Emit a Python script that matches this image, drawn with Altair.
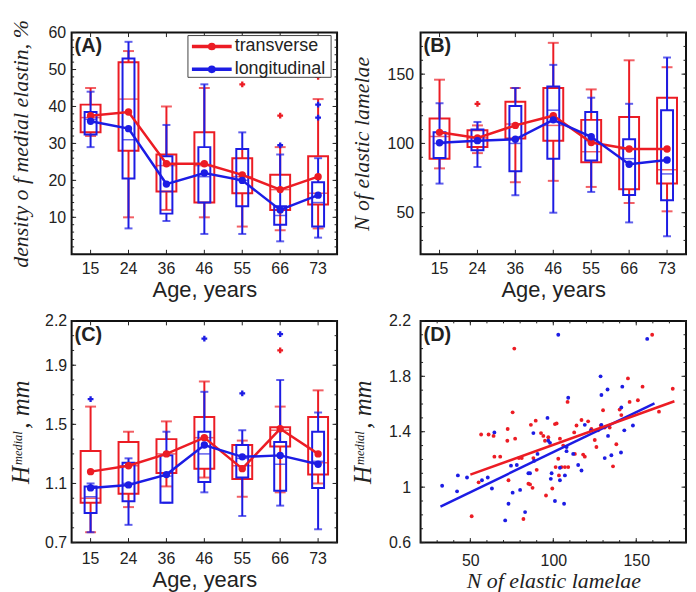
import altair as alt
import pandas as pd

AGES = ["15", "24", "36", "46", "55", "66", "73"]
SERIES = ["transverse", "longitudinal"]

# ---------------- Panel A: density of medial elastin, % ----------------
A_TR_LO = [32, 10, 12, 10, 7.5, 6.5, 7]
A_TR_Q1 = [33, 28, 17, 14, 16.5, 12, 13.5]
A_TR_MED = [37, 42, 24, 24, 21, 17.5, 16.5]
A_TR_Q3 = [40.5, 52, 27, 33, 26, 21.5, 26.5]
A_TR_HI = [45, 55, 40, 45, 28.5, 29, 42]
A_TR_MEAN = [37.5, 38.5, 24.5, 24.5, 21.5, 17.5, 21]
A_TR_OUT_AGE = ["55", "66", "73"]
A_TR_OUT_VAL = [46, 37.5, 48]

A_LG_LO = [29, 7, 9, 5.5, 5.5, 3.5, 4.5]
A_LG_Q1 = [32.4, 20.5, 11, 14, 13, 8, 7.5]
A_LG_MED = [36.5, 31, 17, 21, 20, 10.5, 14]
A_LG_Q3 = [38.5, 53, 26.5, 29, 28.5, 13, 19.5]
A_LG_HI = [44, 57.5, 35, 46, 33, 27, 26]
A_LG_MEAN = [36, 34, 19, 22, 20, 12, 16]
A_LG_OUT_AGE = ["66", "73", "73"]
A_LG_OUT_VAL = [29.5, 40.5, 37]

# ---------------- Panel B: N of elastic lamelae ----------------
B_TR_LO = [82, 93, 72, 73, 68.6, 57, 51]
B_TR_Q1 = [89, 97.5, 103.5, 102, 86.4, 67, 71]
B_TR_MED = [105, 104, 114, 113, 94, 96, 81]
B_TR_Q3 = [118, 109.5, 130, 140, 117, 119, 133]
B_TR_HI = [146, 113, 140, 172.6, 139, 160, 155]
B_TR_MEAN = [108, 104, 113, 120, 100.7, 96, 96]
B_TR_OUT_AGE = ["24"]
B_TR_OUT_VAL = [128.6]

B_LG_LO = [71, 83, 62.6, 50, 65, 43, 33]
B_LG_Q1 = [89.5, 95, 80, 89, 87.6, 62.8, 59]
B_LG_MED = [100, 102, 100, 124, 102, 89, 78]
B_LG_Q3 = [108, 110, 127, 141, 122.6, 103, 124]
B_LG_HI = [129, 115.5, 140, 156.7, 133, 128.6, 162]
B_LG_MEAN = [100.5, 102, 103, 117, 104.8, 85, 88]
B_LG_OUT_AGE = []
B_LG_OUT_VAL = []

# ---------------- Panel C: H medial, mm ----------------
C_TR_LO = [0.77, 0.94, 1.08, 1.14, 1.01, 1.04, 1.10]
C_TR_Q1 = [0.97, 1.03, 1.17, 1.20, 1.13, 1.35, 1.16]
C_TR_MED = [1.00, 1.22, 1.30, 1.41, 1.22, 1.46, 1.24]
C_TR_Q3 = [1.32, 1.38, 1.40, 1.55, 1.36, 1.48, 1.55]
C_TR_HI = [1.62, 1.45, 1.52, 1.79, 1.39, 1.62, 1.73]
C_TR_MEAN = [1.18, 1.22, 1.30, 1.41, 1.20, 1.47, 1.30]
C_TR_OUT_AGE = ["66"]
C_TR_OUT_VAL = [2.00]

C_LG_LO = [0.77, 0.82, 0.97, 1.04, 0.88, 0.95, 0.79]
C_LG_Q1 = [0.90, 0.98, 0.97, 1.11, 1.14, 1.05, 1.07]
C_LG_MED = [1.01, 1.10, 1.15, 1.30, 1.27, 1.23, 1.25]
C_LG_Q3 = [1.08, 1.24, 1.29, 1.45, 1.36, 1.38, 1.45]
C_LG_HI = [1.10, 1.27, 1.45, 1.72, 1.46, 1.80, 1.58]
C_LG_MEAN = [1.07, 1.09, 1.16, 1.36, 1.28, 1.29, 1.23]
C_LG_OUT_AGE = ["15", "46", "55", "66"]
C_LG_OUT_VAL = [1.67, 2.08, 1.71, 2.11]

# ---------------- Panel D: scatter H medial vs N lamelae ----------------
D_LG_X = [33, 42, 42.5, 48, 57, 60.5, 63, 64.5, 71, 73, 74.5, 75.5, 78, 80, 83, 85, 86,
          88, 88.5, 90.5, 96.5, 97, 98, 98.5, 99, 101, 103, 104, 104, 107, 106.5, 108,
          108, 109, 112, 115, 117, 119, 122.7, 128.5, 129, 129, 131, 132.7, 133, 135,
          140.8, 141, 141.6, 142.8, 148, 156.6]
D_LG_Y = [1.01, 0.97, 1.085, 1.07, 1.05, 1.07, 0.99, 1.395, 0.76, 0.88, 1.155, 0.96, 1.16,
          0.98, 0.82, 1.10, 1.10, 1.39, 1.19, 1.24, 1.50, 1.335, 1.32, 1.06, 1.10, 0.90,
          2.10, 1.14, 1.05, 1.085, 0.88, 1.29, 1.26, 1.645, 1.24, 1.16, 1.12, 1.45, 1.41,
          1.80, 1.665, 1.45, 1.21, 1.705, 1.37, 1.23, 1.25, 1.575, 1.725, 1.41, 1.445, 2.07]
D_TR_X = [50.8, 55, 56.5, 61, 64, 64.5, 68, 72.3, 72.5, 73, 75.5, 76.5, 77, 79.3, 81, 82,
          85, 86, 86.5, 87.5, 88, 89.4, 90, 92.6, 94, 95, 95.6, 97, 99.4, 101, 101.4, 102,
          103, 103.4, 104, 105, 106, 107, 108.6, 109, 112.6, 113, 114, 117, 118, 119, 121,
          123, 125, 126, 127, 128.7, 130, 131, 134, 136, 138, 140, 141, 145, 146, 151,
          153.8, 159.6, 163.7, 172]
D_TR_Y = [0.79, 1.035, 1.38, 1.38, 1.37, 1.22, 1.22, 1.335, 1.42, 1.05, 1.54, 2.00, 1.35,
          1.21, 1.21, 0.77, 1.025, 1.02, 1.45, 0.995, 1.21, 1.48, 1.125, 1.39, 1.37, 1.335,
          0.94, 1.36, 0.99, 1.455, 1.145, 1.46, 1.205, 1.085, 1.35, 1.145, 1.30, 1.145,
          1.615, 1.145, 1.395, 1.24, 1.445, 1.485, 1.235, 1.22, 1.475, 1.42, 1.34, 1.29,
          1.41, 1.445, 1.555, 1.43, 1.43, 1.15, 1.31, 1.56, 1.52, 1.785, 1.615, 1.627,
          1.725, 2.10, 1.545, 1.71]
D_TR_FIT_X = [50, 173]
D_TR_FIT_Y = [1.09, 1.62]
D_LG_FIT_X = [32, 161]
D_LG_FIT_Y = [0.86, 1.605]

# axis ticks
A_MAJOR = [10, 20, 30, 40, 50, 60]
A_MINOR = list(range(0, 61, 2))
B_MAJOR = [50, 100, 150]
B_MINOR = list(range(20, 181, 10))
C_MAJOR = [0.7, 1.1, 1.5, 1.9, 2.2]
C_MINOR = [round(0.7 + 0.1 * i, 1) for i in range(16)]
D_YMAJOR = [0.6, 1.0, 1.4, 1.8, 2.2]
D_YMINOR = [round(0.6 + 0.1 * i, 1) for i in range(17)]
D_XMAJOR = [50, 100, 150]
D_XMINOR = list(range(20, 181, 10))

RED = "#ec1c24"
BLUE = "#1c1ce4"
INK = "#222222"
SANS = "Liberation Sans, Arial, sans-serif"
SERIF = "Liberation Serif, Times New Roman, serif"
W, H = 267, 223
H_TITLE = "H" + "\u00a0" * 6 + ", mm"
H_SUP = "medial"


def stats(lo, q1, med, q3, hi, mean):
    return pd.DataFrame({"age": AGES, "lo": lo, "q1": q1, "med": med,
                         "q3": q3, "hi": hi, "mean": mean})


def outs(ages, vals):
    return pd.DataFrame({"age": ages, "val": vals})


def make_y(scale, axis):
    def Y(f):
        return alt.Y(f"{f}:Q", scale=scale, axis=axis)
    return Y


def y_frame_ticks(major, minor, Y):
    out = []
    for vals, ln in ((minor, 2.5), (major, 4.5)):
        c = alt.Chart(pd.DataFrame({"v": vals}))
        out.append(c.mark_rule(color=INK, strokeWidth=1).encode(
            y=Y("v"), x=alt.value(0), x2=alt.value(ln)))
        out.append(c.mark_rule(color=INK, strokeWidth=1).encode(
            y=Y("v"), x=alt.value(W - ln), x2=alt.value(W)))
    return out


def x_frame_ticks(df, X, ln):
    c = alt.Chart(df)
    return [
        c.mark_rule(color=INK, strokeWidth=1).encode(x=X, y=alt.value(H - ln), y2=alt.value(H)),
        c.mark_rule(color=INK, strokeWidth=1).encode(x=X, y=alt.value(0), y2=alt.value(ln)),
    ]


def box_layers(df, odf, color, box_w, cap_w, X, Y):
    b = alt.Chart(df)
    layers = [
        b.mark_rule(color=color, strokeWidth=2).encode(x=X, y=Y("lo"), y2=alt.Y2("q1")),
        b.mark_rule(color=color, strokeWidth=2).encode(x=X, y=Y("q3"), y2=alt.Y2("hi")),
        b.mark_tick(color=color, size=cap_w, thickness=2).encode(x=X, y=Y("lo")),
        b.mark_tick(color=color, size=cap_w, thickness=2).encode(x=X, y=Y("hi")),
        b.mark_bar(size=box_w, color=color, fillOpacity=0, stroke=color,
                   strokeWidth=2).encode(x=X, y=Y("q1"), y2=alt.Y2("q3")),
        b.mark_tick(color=color, size=box_w - 1, thickness=1.5).encode(x=X, y=Y("med")),
    ]
    if len(odf):
        layers.append(alt.Chart(odf).mark_point(shape="cross", filled=True, size=34,
                                                color=color, opacity=1).encode(x=X, y=Y("val")))
    return layers


def mean_layer(df, color, X, Y):
    return alt.Chart(df).mark_line(
        color=color, strokeWidth=2.5,
        point=alt.OverlayMarkDef(filled=True, size=55, color=color, opacity=1)
    ).encode(x=X, y=Y("mean"))


def panel_label(txt):
    return alt.Chart(pd.DataFrame({"t": [txt]})).mark_text(
        align="left", baseline="top", font=SANS, fontSize=20, fontWeight="bold", color=INK
    ).encode(text="t:N", x=alt.value(3), y=alt.value(4))


def sup_label(tx):
    # superscript "medial" of the H title, placed just after the "H"
    return alt.Chart(pd.DataFrame({"t": [H_SUP]})).mark_text(
        angle=270, align="left", baseline="alphabetic", font=SERIF, fontStyle="italic",
        fontSize=12.5, color=INK
    ).encode(text="t:N", x=alt.value(tx), y=alt.value(145))


def legend_layers():
    layers = [alt.Chart(pd.DataFrame({"k": [0]})).mark_rect(
        fill="white", stroke="#444", strokeWidth=1).encode(
        x=alt.value(117), x2=alt.value(261), y=alt.value(3), y2=alt.value(45))]
    for name, color, yy in ((SERIES[0], RED, 14), (SERIES[1], BLUE, 37)):
        d = alt.Chart(pd.DataFrame({"name": [name]}))
        layers.append(d.mark_rule(color=color, strokeWidth=3.5).encode(
            x=alt.value(121), x2=alt.value(161), y=alt.value(yy)))
        layers.append(d.mark_point(filled=True, size=60, color=color, opacity=1).encode(
            x=alt.value(141), y=alt.value(yy)))
        layers.append(d.mark_text(align="left", baseline="middle", font=SANS, fontSize=18,
                                  color=INK).encode(text="name:N", x=alt.value(164), y=alt.value(yy)))
    return layers


def box_panel(tr, tr_o, lg, lg_o, domain, major, minor, y_axis, x_axis, label, extra=None):
    X = alt.X("age:N", sort=AGES,
              scale=alt.Scale(type="band", domain=AGES, paddingInner=0, paddingOuter=0),
              axis=x_axis)
    Y = make_y(alt.Scale(domain=domain, nice=False, zero=False), y_axis)
    layers = []
    layers += y_frame_ticks(major, minor, Y)
    layers += x_frame_ticks(pd.DataFrame({"age": AGES}), X, 4.5)
    layers += box_layers(tr, tr_o, RED, 20, 11, X, Y)
    layers += box_layers(lg, lg_o, BLUE, 12, 8, X, Y)
    layers.append(mean_layer(tr, RED, X, Y))
    layers.append(mean_layer(lg, BLUE, X, Y))
    layers.append(panel_label(label))
    if extra:
        layers += extra
    return alt.layer(*layers).properties(width=W, height=H)


def x_age_axis(pad, ty):
    return alt.Axis(title="Age, years", labelAngle=0, labelPadding=pad, titleFont=SANS,
                    titleFontSize=22, titleY=ty)


def y_axis(values, title, size, font_style, tx, pad, fmt=None):
    kw = dict(values=values, title=title, titleFont=SERIF, titleFontStyle=font_style,
              titleFontSize=size, titleX=tx, labelPadding=pad)
    if fmt:
        kw["format"] = fmt
    return alt.Axis(**kw)


C_TX = -38
D_TX = -45

pA = box_panel(
    stats(A_TR_LO, A_TR_Q1, A_TR_MED, A_TR_Q3, A_TR_HI, A_TR_MEAN), outs(A_TR_OUT_AGE, A_TR_OUT_VAL),
    stats(A_LG_LO, A_LG_Q1, A_LG_MED, A_LG_Q3, A_LG_HI, A_LG_MEAN), outs(A_LG_OUT_AGE, A_LG_OUT_VAL),
    [0, 60], A_MAJOR, A_MINOR,
    y_axis(A_MAJOR, "density o f  medial elastin, %", 22, "italic", -39, 6),
    x_age_axis(6, 25), "(A)", legend_layers())

pB = box_panel(
    stats(B_TR_LO, B_TR_Q1, B_TR_MED, B_TR_Q3, B_TR_HI, B_TR_MEAN), outs(B_TR_OUT_AGE, B_TR_OUT_VAL),
    stats(B_LG_LO, B_LG_Q1, B_LG_MED, B_LG_Q3, B_LG_HI, B_LG_MEAN), outs(B_LG_OUT_AGE, B_LG_OUT_VAL),
    [20, 180], B_MAJOR, B_MINOR,
    y_axis(B_MAJOR, "N of elastic lamelae", 22, "italic", -47, 7),
    x_age_axis(6, 25), "(B)")

pC = box_panel(
    stats(C_TR_LO, C_TR_Q1, C_TR_MED, C_TR_Q3, C_TR_HI, C_TR_MEAN), outs(C_TR_OUT_AGE, C_TR_OUT_VAL),
    stats(C_LG_LO, C_LG_Q1, C_LG_MED, C_LG_Q3, C_LG_HI, C_LG_MEAN), outs(C_LG_OUT_AGE, C_LG_OUT_VAL),
    [0.7, 2.2], C_MAJOR, C_MINOR,
    y_axis(C_MAJOR, H_TITLE, 25, "italic", C_TX, 5),
    x_age_axis(8, 27), "(C)", [sup_label(C_TX - 12)])

# Panel D
XD = alt.Scale(domain=[20, 180], nice=False, zero=False)
YD = alt.Scale(domain=[0.6, 2.2], nice=False, zero=False)
xd_axis = alt.Axis(values=D_XMAJOR, title="N of elastic lamelae", titleFont=SERIF,
                   titleFontStyle="italic", titleFontSize=22, labelPadding=10, titleY=28)
yd_axis = y_axis(D_YMAJOR, H_TITLE, 25, "italic", D_TX, 10, "~g")


def XDf(f):
    return alt.X(f"{f}:Q", scale=XD, axis=xd_axis)


YDf = make_y(YD, yd_axis)

d_layers = []
d_layers += y_frame_ticks(D_YMAJOR, D_YMINOR, YDf)
for vals, ln in ((D_XMINOR, 2.5), (D_XMAJOR, 4.5)):
    d_layers += x_frame_ticks(pd.DataFrame({"xv": vals}), XDf("xv"), ln)
for xs, ys, color in ((D_TR_X, D_TR_Y, RED), (D_LG_X, D_LG_Y, BLUE)):
    d_layers.append(alt.Chart(pd.DataFrame({"n": xs, "h": ys})).mark_circle(
        size=15, color=color, opacity=1).encode(x=XDf("n"), y=YDf("h")))
for xs, ys, color in ((D_LG_FIT_X, D_LG_FIT_Y, BLUE), (D_TR_FIT_X, D_TR_FIT_Y, RED)):
    d_layers.append(alt.Chart(pd.DataFrame({"n": xs, "h": ys})).mark_line(
        color=color, strokeWidth=2.5).encode(x=XDf("n"), y=YDf("h")))
d_layers.append(panel_label("(D)"))
d_layers.append(sup_label(D_TX - 12))
pD = alt.layer(*d_layers).properties(width=W, height=H)

chart = alt.concat(
    pA, pB, pC, pD, columns=2, spacing={"row": 67, "column": 84}, bounds="flush"
).properties(
    padding={"left": 0, "top": 6, "right": 0, "bottom": 0}, background="white"
).configure_view(
    stroke="#111", strokeWidth=2
).configure_axis(
    grid=False, ticks=False, tickSize=0, domain=False, labelFont=SANS, labelFontSize=16,
    labelColor=INK, titleColor=INK, titleFontWeight="normal"
)

chart.save("out.html", embed_options={"renderer": "svg", "actions": False})
